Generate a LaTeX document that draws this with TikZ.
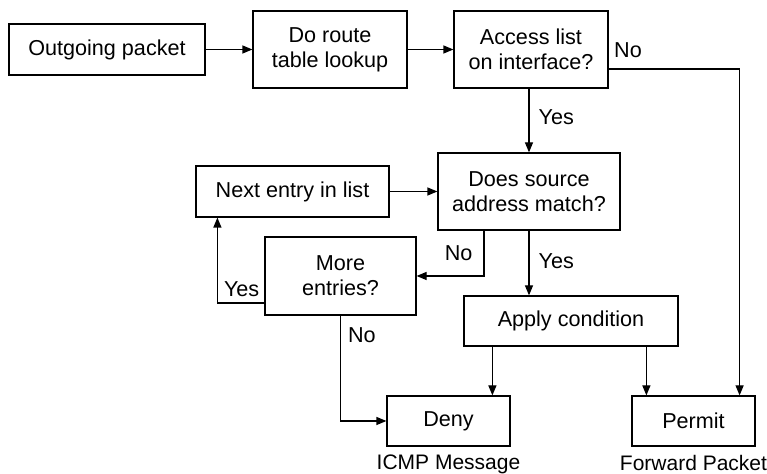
\documentclass[tikz,border=0pt]{standalone}
\usepackage{fontspec}
\setmainfont{Liberation Sans}
\usetikzlibrary{arrows.meta,positioning}

\begin{document}
\begin{tikzpicture}[x=0.5pt,y=-0.5pt,line width=0.6pt,>={Triangle[length=5pt,width=4pt]},
	box/.style={draw,align=center,inner sep=0pt,font=\fontsize{10.8}{12.5}\selectfont},
	lbl/.style={inner sep=0pt,font=\fontsize{10.8}{12.5}\selectfont},
	sub/.style={inner sep=0pt,font=\fontsize{10.5}{12.5}\selectfont}]
	\useasboundingbox (0,0) rectangle (767,474);
	% boxes
	\node[box,minimum width=98pt,minimum height=25.5pt] (out) at (107,49.5) {Outgoing packet};
	\node[box,minimum width=77pt,minimum height=38.5pt] (route) at (330,49.5) {Do route\\table lookup};
	\node[box,minimum width=77pt,minimum height=38.5pt] (acl) at (531,49.5) {Access list\\on interface?};
	\node[box,minimum width=91pt,minimum height=38.5pt] (match) at (529,191.5) {Does source\\address match?};
	\node[box,minimum width=96.5pt,minimum height=25.5pt] (next) at (292.5,191.5) {Next entry in list};
	\node[box,minimum width=75.5pt,minimum height=39pt] (more) at (340.5,276) {More\\entries?};
	\node[box,minimum width=107pt,minimum height=25pt] (apply) at (571,321) {Apply condition};
	\node[box,minimum width=61.5pt,minimum height=25pt] (deny) at (448.5,421) {Deny};
	\node[box,minimum width=61.5pt,minimum height=25pt] (permit) at (693.5,421) {Permit};
	\node[sub,below=4pt of deny] (icmp) {ICMP Message};
	\node[sub,below=4pt of permit] (fwd) {Forward Packet};
	% connector ends
	\coordinate (ppin) at ([xshift=-8pt]permit.north east);
	\coordinate (dpin) at ([xshift=14.5pt]apply.south west);
	\coordinate (apin) at ([xshift=7.5pt]permit.north west);
	% connectors
	\draw[->] (out) -- (route);
	\draw[->] (route) -- (acl);
	\draw[->] ([yshift=-9.75pt]acl.east) node[lbl,above right=5.5pt and 2.5pt] {No} -| (ppin);
	\draw[->] (match.north |- acl.south) -- node[lbl,midway,right=4.5pt,yshift=1.5pt] {Yes} (match.north);
	\draw[->] (next) -- (match);
	\draw[->] ([xshift=-22.5pt]match.south) |- node[lbl,pos=0.25,left=5.5pt] {No} (more.east);
	\draw[->] (match.south) -- node[lbl,midway,right=4.5pt,yshift=1pt] {Yes} (match.south |- apply.north);
	\draw[->] ([yshift=-13.5pt]more.west) -| node[lbl,pos=0.5,above right=3pt and 3pt] {Yes} ([xshift=11pt]next.south west);
	\draw[->] (more.south) node[lbl,below right=5.5pt and 3.5pt] {No} |- (deny.west);
	\draw[->] (dpin) -- (dpin |- deny.north);
	\draw[->] (apin |- apply.south) -- (apin);
\end{tikzpicture}
\end{document}
